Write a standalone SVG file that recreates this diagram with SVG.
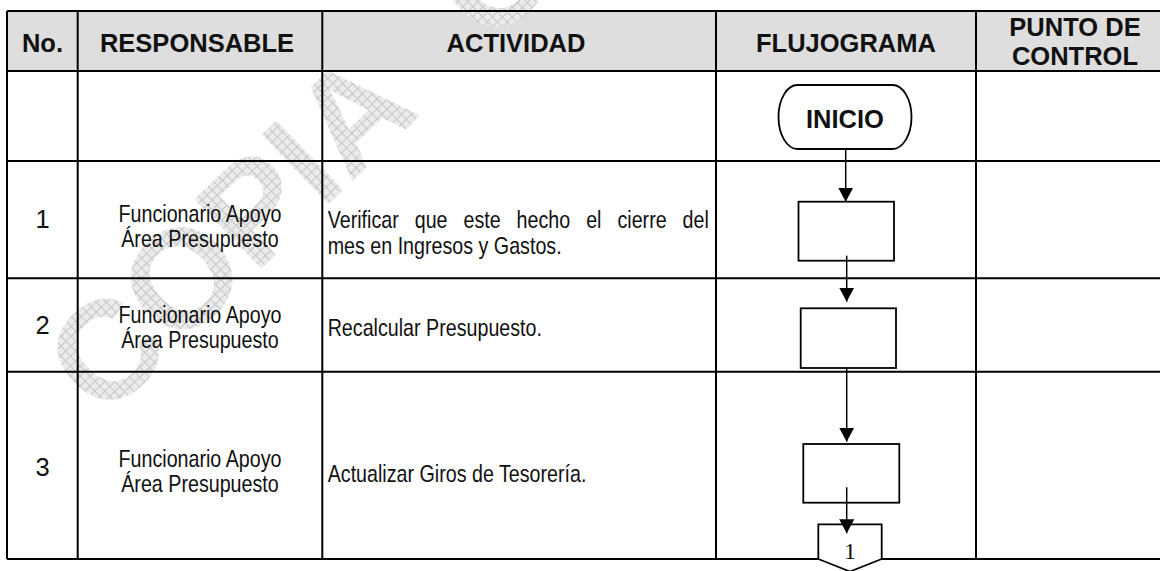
<svg xmlns="http://www.w3.org/2000/svg" width="1160" height="571" viewBox="0 0 1160 571">
<defs>
<pattern id="hatch" width="7" height="7" patternUnits="userSpaceOnUse">
<rect width="7" height="7" fill="#ebebeb"/>
<path d="M0,0.5H7M0.5,0V7" stroke="#c6c6c6" stroke-width="1"/>
</pattern>
<marker id="arr" markerUnits="userSpaceOnUse" markerWidth="14" markerHeight="15" refX="14" refY="7.5" orient="auto" viewBox="0 0 14 15"><path d="M0,0L14,7.5L0,15z" fill="#000"/></marker>
<style>
.grid{stroke:#000;stroke-width:2;fill:none}
.hdr{font-family:"Liberation Sans",Arial,sans-serif;font-weight:bold;font-size:25.5px;fill:#111;text-anchor:middle}
.body{font-family:"Liberation Sans","Arial",sans-serif;font-size:24px;fill:#111}
.mid{text-anchor:middle}
.num{font-family:"Liberation Sans",Arial,sans-serif;font-size:25.5px;fill:#111;text-anchor:middle}
.box{fill:#fff;stroke:#000;stroke-width:1.8}
.conn{stroke:#000;stroke-width:1.5;fill:none;marker-end:url(#arr)}
.wm{font-family:"Liberation Sans",Arial,sans-serif;font-weight:bold;font-size:140px;fill:url(#hatch)}
</style>
</defs>
<rect width="1160" height="571" fill="#fff"/>
<rect x="7" y="11" width="1167" height="60" fill="#dedede"/>
<g id="watermark">
<text class="wm" transform="translate(103.5,421) rotate(-44)" word-spacing="60">COPIA CONTROLADA</text>
</g>
<g id="table" class="grid">
<path d="M7,11H1160M7,71H1160M7,161H1160M7,278.3H1160M7,371.7H1160M7,559H1160"/>
<path d="M7,11V559M77.7,11V559M322.3,11V559M716,11V559M976,11V559"/>
</g>
<g id="headers">
<text class="hdr" x="42.5" y="51.5">No.</text>
<text class="hdr" x="197" y="51.5">RESPONSABLE</text>
<text class="hdr" x="516" y="51.5">ACTIVIDAD</text>
<text class="hdr" x="846" y="51.5">FLUJOGRAMA</text>
<text class="hdr" x="1075" y="36">PUNTO DE</text>
<text class="hdr" x="1075" y="65">CONTROL</text>
</g>
<g id="numbers">
<text class="num" x="42.5" y="228">1</text>
<text class="num" x="42.5" y="334">2</text>
<text class="num" x="42.5" y="476">3</text>
</g>
<g id="body-text" transform="scale(0.82 1)">
<text class="body mid" x="243.9" y="222">Funcionario Apoyo</text>
<text class="body mid" x="243.9" y="247">Área Presupuesto</text>
<text class="body" x="399.6" y="228" word-spacing="12.8">Verificar que este hecho el cierre del</text>
<text class="body" x="399.6" y="254">mes en Ingresos y Gastos.</text>
<text class="body mid" x="243.9" y="323">Funcionario Apoyo</text>
<text class="body mid" x="243.9" y="348">Área Presupuesto</text>
<text class="body" x="399.6" y="336">Recalcular Presupuesto.</text>
<text class="body mid" x="243.9" y="467">Funcionario Apoyo</text>
<text class="body mid" x="243.9" y="492">Área Presupuesto</text>
<text class="body" x="399.6" y="482">Actualizar Giros de Tesorería.</text>
</g>
<g id="inicio">
<rect class="box" x="778.5" y="85" width="133" height="64" rx="19" ry="32" stroke-width="1.5"/>
<text class="hdr" x="845" y="128.3">INICIO</text>
</g>
<g id="act1"><rect class="box" x="798.5" y="201.7" width="95.5" height="59"/></g>
<g id="act2"><rect class="box" x="800.7" y="308.3" width="95.3" height="59.7"/></g>
<g id="act3"><rect class="box" x="803.3" y="444" width="96" height="58.7"/></g>
<g id="conector1">
<polygon class="box" points="818.3,524.3 881.7,524.3 881.7,559 850,571.5 818.3,559"/>
<text x="850" y="559" font-family="'Liberation Serif','Times New Roman',serif" font-size="24" text-anchor="middle" fill="#111">1</text>
</g>
<g id="connectors">
<path class="conn" d="M845.7,149V201.7"/>
<path class="conn" d="M846.7,255.7V301.7"/>
<path class="conn" d="M846.7,368V441.7"/>
<path class="conn" d="M846.7,487.3V533.3"/>
</g>
</svg>
